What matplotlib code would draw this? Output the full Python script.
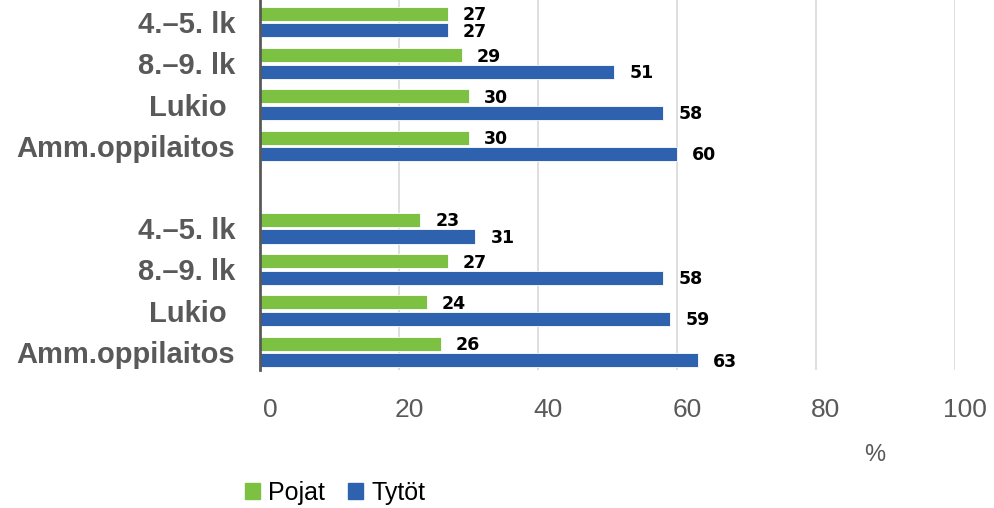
import matplotlib.pyplot as plt
import matplotlib.transforms as mtransforms
from matplotlib.patches import Patch

# data
categories = ["4.–5. lk", "8.–9. lk", "Lukio ", "Amm.oppilaitos"]
pojat_a = [27, 29, 30, 30]
tytot_a = [27, 51, 58, 60]
pojat_b = [23, 27, 24, 26]
tytot_b = [31, 58, 59, 63]
xticks = [0, 20, 40, 60, 80, 100]

GREEN = "#7dc142"
BLUE = "#2e62ae"
GRAY = "#595959"

plt.rcParams["font.family"] = ["Liberation Sans", "DejaVu Sans"]

fig = plt.figure(figsize=(9.94, 5.08), dpi=100)
ax = fig.add_axes([260 / 994, 1 - 370 / 508, 695 / 994, 370 / 508])

# y positions: top group at 8..5, gap at 4, bottom group at 3..0
ypos_a = [8, 7, 6, 5]
ypos_b = [3, 2, 1, 0]
h = 0.34
off = 0.2

labels_y, labels_t = [], []
for ypos, pj, ty in [(ypos_a, pojat_a, tytot_a), (ypos_b, pojat_b, tytot_b)]:
    yg = [y + off for y in ypos]
    yb = [y - off for y in ypos]
    gb = ax.barh(yg, pj, height=h, color=GREEN, edgecolor="white", linewidth=0.6)
    bb = ax.barh(yb, ty, height=h, color=BLUE, edgecolor="white", linewidth=0.6)
    for bars, vals in [(gb, pj), (bb, ty)]:
        for rect, v in zip(bars, vals):
            ax.annotate(str(v), (rect.get_width(), rect.get_y() + rect.get_height() / 2),
                        xytext=(11, -1), textcoords="offset points",
                        ha="left", va="center", fontsize=12.5, fontweight="bold",
                        color="black", family=["DejaVu Sans"])
    labels_y += ypos
    labels_t += categories

ax.set_xlim(0, 100)
ax.set_ylim(-0.44, 8.54)
ax.set_xticks(xticks)
ax.set_xticklabels([str(t) for t in xticks], fontsize=19, color=GRAY)
ax.tick_params(axis="x", length=0, pad=20)
offset = mtransforms.ScaledTranslation(10 / 100, 0, fig.dpi_scale_trans)
for lbl in ax.get_xticklabels():
    lbl.set_transform(lbl.get_transform() + offset)

ax.set_yticks(labels_y)
ax.set_yticklabels(labels_t, fontsize=21, fontweight="bold", color=GRAY)
ax.tick_params(axis="y", length=0, pad=18)

ax.grid(axis="x", color="#d9d9d9", linewidth=1.2)
ax.set_axisbelow(True)
for s in ["top", "right", "bottom"]:
    ax.spines[s].set_visible(False)
ax.spines["left"].set_color(GRAY)
ax.spines["left"].set_linewidth(2)

fig.text(875 / 994, 1 - 455 / 508, "%", ha="center", va="center",
         fontsize=17, color=GRAY)

handles = [Patch(color=GREEN, label="Pojat"), Patch(color=BLUE, label="Tytöt")]
fig.legend(handles=handles, loc="center left", bbox_to_anchor=(222 / 994, 1 - 493 / 508),
           ncol=2, frameon=False, fontsize=18, handlelength=0.6, handleheight=0.6,
           handletextpad=0.35, columnspacing=0.9, labelcolor="black")

fig.savefig("out.png", dpi=100)
